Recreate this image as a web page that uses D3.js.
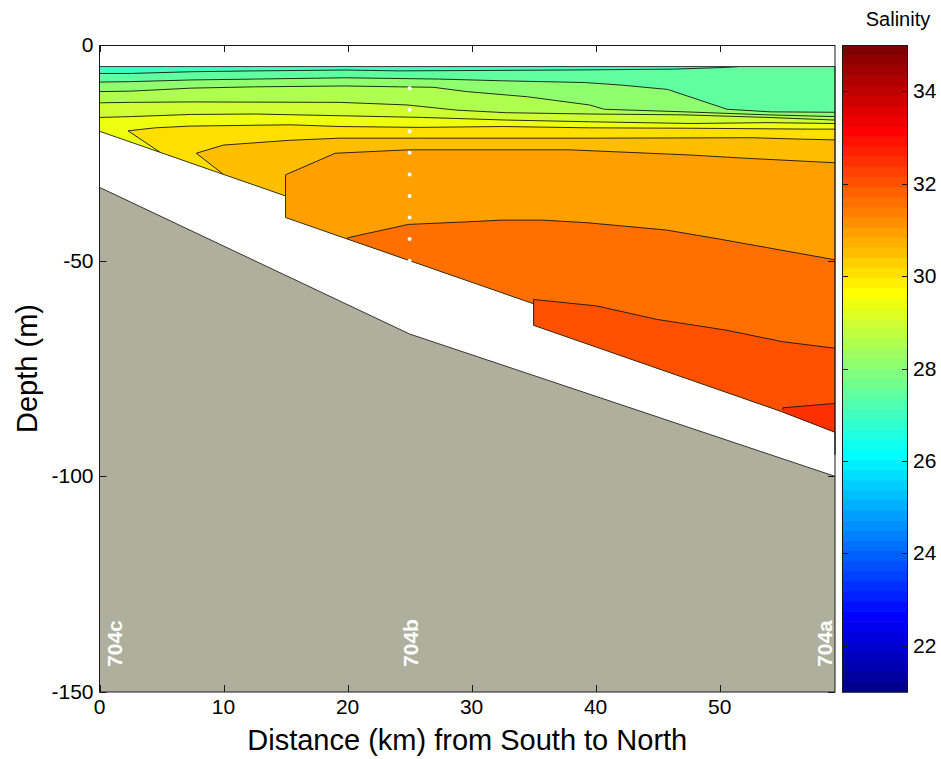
<!DOCTYPE html>
<html><head><meta charset="utf-8">
<script src="https://cdn.jsdelivr.net/npm/d3@7"></script>
<style>body{margin:0;background:#fff} text{font-family:Arial,"Liberation Sans",Helvetica,sans-serif;fill:#000}</style>
</head><body><svg id="c" width="941" height="759"></svg>
<script>
// ---------------- data ----------------
const xTicks = [0, 10, 20, 30, 40, 50];
const yTicks = [0, -50, -100, -150];
const cbTicks = [22, 24, 26, 28, 30, 32, 34];
const xMax = 59.3;
const depthMax = 150;
const cLim = [21, 35];
const baseLevel = 27;
const levels = [27.5, 28, 28.5, 29, 29.5, 30, 30.5, 31, 31.5, 32, 32.5];
// isohalines: [distance km, depth m]
const iso275 = [[0,6.6],[2.5,6.6],[7.4,6.2],[12.5,6.0],[19.8,5.8],[24.2,6.0],[37.6,5.8],[46.2,5.6],[50.5,5.2],[51.5,5.0]];
const iso280 = [[0,8.6],[2.5,8.5],[7.4,8.1],[12.5,7.9],[17.4,7.7],[19.8,7.6],[27.4,7.9],[32.5,8.3],[39.1,8.7],[42.1,9.3],[45.8,10.3],[50.6,14.9],[54.1,15.5],[59.3,15.6]];
const iso285 = [[0,10.8],[2.5,10.7],[7.4,10.0],[12.5,9.7],[19.8,9.5],[24.2,9.7],[26.9,9.8],[29.6,10.8],[34.5,12.0],[39.5,13.9],[40.7,14.9],[47.2,15.5],[53.9,16.2],[59.3,16.6]];
const iso290 = [[0,13.4],[2.5,13.3],[7.4,13.2],[19.4,13.3],[24.8,13.9],[28.8,15.1],[32.8,15.7],[39.5,16.0],[47.2,16.2],[53.9,16.8],[59.3,17.4]];
const iso295 = [[0,16.8],[2.5,16.6],[7.4,16.1],[12.5,16.0],[19.4,16.4],[26.1,16.8],[32.8,17.4],[39.5,17.8],[47.7,18.2],[53.9,18.0],[59.3,18.2]];
const iso300 = [[4.9,24.9],[2.3,19.9],[4.5,19.2],[7.3,18.8],[15.4,18.5],[19.4,18.9],[25.8,19.1],[32.5,18.9],[39.5,19.2],[47.7,19.3],[57.1,19.5],[59.3,19.5]];
const iso305 = [[10,30],[7.8,25.1],[10,23.2],[15.3,22.1],[19.4,21.6],[25.8,21.6],[40,21.6],[52.6,21.5],[56.2,21.8],[59.3,22.0]];
const iso310 = [[15,35],[15,30.1],[19,25.1],[24.9,24.3],[37.9,24.3],[47.6,25.5],[52.4,26.3],[59.3,27.3]];
const iso315 = [[20,46.5],[20,44.7],[24.9,41.6],[29.6,41.0],[32.5,40.6],[35.7,40.6],[39.3,41.2],[45.7,42.9],[50.0,45.0],[59.3,49.8]];
const iso320 = [[35,65.1],[35,59.0],[40.1,60.5],[44.9,63.6],[50.5,66.1],[55.1,68.8],[59.3,70.3]];
const iso325 = [[55.1,84.6],[55.1,84.1],[59.3,83.1]];
const isolines = [iso275, iso280, iso285, iso290, iso295, iso300, iso305, iso310, iso315, iso320, iso325];
const dataTopDepth = 5;
const dataBottom = [[59.3,89.8],[55,85],[35,65],[35,60],[15,40],[15,35],[0,20]];
const rightEdgeGap = [[59.3,89.8],[59.3,95]];
const bathymetry = [[0,33],[25,67],[59.3,100]];
const stationNames = ["704c", "704b", "704a"];
const stationKm = [0, 25, 59.3];
const sampleKm = 25;
const sampleDepths = [10, 15, 20, 25, 30, 35, 40, 45, 50];

// ---------------- layout ----------------
const L = 99.5, R = 835, T = 45, B = 692;
const cbL = 842, cbR = 908;
const svg = d3.select("#c");
const x = d3.scaleLinear().domain([0, xMax]).range([L, R]);
const y = d3.scaleLinear().domain([0, -depthMax]).range([T, B]);
const P = p => [x(p[0]), y(-p[1])];

// MATLAB jet(64)
function jet(k) { // k 1..64
  let r, g, b;
  r = k <= 24 ? 0 : k <= 40 ? (k - 24) / 16 : k <= 56 ? 1 : 1 - (k - 56) / 16;
  g = k <= 8 ? 0 : k <= 24 ? (k - 8) / 16 : k <= 40 ? 1 : k <= 55 ? 1 - (k - 40) / 16 : 0;
  b = k <= 8 ? (k + 8) / 16 : k <= 24 ? 1 : k <= 39 ? 1 - (k - 24) / 16 : 0;
  return d3.rgb(Math.round(r * 255), Math.round(g * 255), Math.round(b * 255)).toString();
}
const nColors = 64;
function colorOf(v) {
  let k = Math.floor((v - cLim[0]) / (cLim[1] - cLim[0]) * nColors) + 1;
  k = Math.max(1, Math.min(nColors, k));
  return jet(k);
}

// clip: data domain
const domainPoly = [[0, dataTopDepth], [xMax, dataTopDepth], ...dataBottom];
const defs = svg.append("defs");
defs.append("clipPath").attr("id", "dom").append("path")
  .attr("d", d3.line()(domainPoly.map(P)) + "Z");
defs.append("clipPath").attr("id", "plot").append("rect")
  .attr("x", L).attr("y", T).attr("width", R - L).attr("height", B - T);

const gF = svg.append("g").attr("clip-path", "url(#dom)");
gF.append("path").attr("d", d3.line()(domainPoly.map(P)) + "Z").attr("fill", colorOf(baseLevel));
levels.forEach((lv, i) => {
  const line = isolines[i];
  const pts = line.map(P);
  const first = line[0], last = line[line.length - 1];
  if (last[0] < xMax) pts.push([x(xMax), y(0)]);
  pts.push([x(xMax), y(-depthMax)]);
  pts.push([x(first[0]), y(-depthMax)]);
  gF.append("path").attr("d", d3.line()(pts) + "Z").attr("fill", colorOf(lv));
});
isolines.forEach(line => {
  gF.append("path").attr("d", d3.line()(line.map(P)))
    .attr("fill", "none").attr("stroke", "#151515").attr("stroke-width", 0.9);
});
// domain outline
svg.append("path").attr("d", d3.line()(domainPoly.map(P)) + "Z")
  .attr("fill", "none").attr("stroke", "#222").attr("stroke-width", 0.9);
svg.append("path").attr("d", d3.line()(rightEdgeGap.map(P)))
  .attr("fill", "none").attr("stroke", "#111").attr("stroke-width", 1.2);

// bathymetry
const bathPoly = [...bathymetry, [xMax, depthMax], [0, depthMax]];
svg.append("path").attr("clip-path", "url(#plot)")
  .attr("d", d3.line()(bathPoly.map(P)) + "Z").attr("fill", "#aeb09d");
svg.append("path").attr("d", d3.line()(bathymetry.map(P)))
  .attr("fill", "none").attr("stroke", "#222").attr("stroke-width", 0.9);

// sample dots
svg.append("g").selectAll("circle").data(sampleDepths).join("circle")
  .attr("cx", x(sampleKm)).attr("cy", d => y(-d)).attr("r", 2).attr("fill", "#fff");

// station labels
svg.append("g").selectAll("text").data(stationNames).join("text")
  .attr("transform", (d, i) => {
    const bx = Math.max(L + 22, Math.min(R - 3, x(stationKm[i]) + 8));
    return `translate(${bx},${y(-144.2)}) rotate(-90)`;
  })
  .attr("font-size", 21).attr("font-weight", "bold").style("fill", "#fff")
  .text(d => d);

// axes box
const axisColor = "#1a1a1a";
svg.append("rect").attr("x", L).attr("y", T + 0.5).attr("width", R - L).attr("height", B - T - 0.5)
  .attr("fill", "none").attr("stroke", axisColor).attr("stroke-width", 1);
const tl = 7;
const gx = svg.append("g");
xTicks.forEach(t => {
  const px = Math.round(x(t)) + 0.5;
  gx.append("line").attr("x1", px).attr("x2", px).attr("y1", B).attr("y2", B - tl).attr("stroke", axisColor);
  gx.append("line").attr("x1", px).attr("x2", px).attr("y1", T).attr("y2", T + tl).attr("stroke", axisColor);
  gx.append("text").attr("x", x(t)).attr("y", B + 22).attr("text-anchor", "middle")
    .attr("font-size", 21).text(String(t));
});
yTicks.forEach(t => {
  const py = Math.round(y(t)) + 0.5;
  gx.append("line").attr("x1", L).attr("x2", L + tl).attr("y1", py).attr("y2", py).attr("stroke", axisColor);
  gx.append("line").attr("x1", R).attr("x2", R - tl).attr("y1", py).attr("y2", py).attr("stroke", axisColor);
  gx.append("text").attr("x", L - 6).attr("y", y(t) + 7).attr("text-anchor", "end")
    .attr("font-size", 21).text(String(t));
});
svg.append("text").attr("x", (L + R) / 2).attr("y", 750).attr("text-anchor", "middle")
  .attr("font-size", 29).text("Distance (km) from South to North");
svg.append("text").attr("transform", `translate(37,${(T + B) / 2}) rotate(-90)`)
  .attr("text-anchor", "middle").attr("font-size", 29).text("Depth (m)");

// colorbar
const cy = d3.scaleLinear().domain(cLim).range([B, T]);
const gc = svg.append("g");
for (let k = 1; k <= nColors; k++) {
  const v0 = cLim[0] + (k - 1) * (cLim[1] - cLim[0]) / nColors;
  const v1 = cLim[0] + k * (cLim[1] - cLim[0]) / nColors;
  gc.append("rect").attr("x", cbL).attr("width", cbR - cbL)
    .attr("y", cy(v1)).attr("height", cy(v0) - cy(v1) + 0.6).attr("fill", jet(k));
}
gc.append("rect").attr("x", cbL + 0.5).attr("y", T + 0.5).attr("width", cbR - cbL - 1).attr("height", B - T - 0.5)
  .attr("fill", "none").attr("stroke", axisColor);
cbTicks.forEach(t => {
  const py = Math.round(cy(t)) + 0.5;
  gc.append("line").attr("x1", cbL).attr("x2", cbL + 6).attr("y1", py).attr("y2", py).attr("stroke", axisColor);
  gc.append("line").attr("x1", cbR).attr("x2", cbR - 6).attr("y1", py).attr("y2", py).attr("stroke", axisColor);
  gc.append("text").attr("x", cbR + 5).attr("y", cy(t) + 7).attr("font-size", 21).text(String(t));
});
svg.append("text").attr("x", 898).attr("y", 26).attr("text-anchor", "middle")
  .attr("font-size", 20).text("Salinity");
</script></body></html>
